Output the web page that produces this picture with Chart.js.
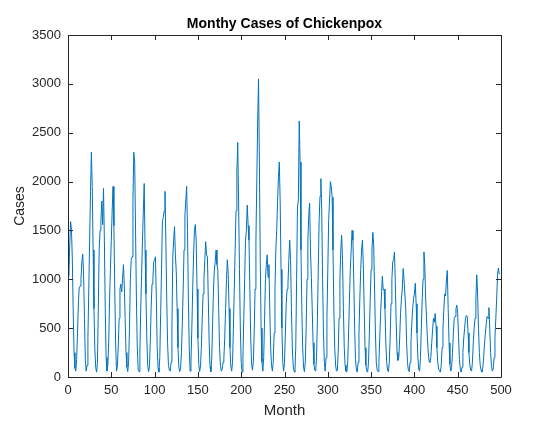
<!DOCTYPE html>
<html>
<head>
<meta charset="utf-8">
<script src="https://cdn.jsdelivr.net/npm/chart.js@4/dist/chart.umd.min.js"></script>
<style>
  html, body { margin: 0; padding: 0; background: #fff; }
</style>
</head>
<body>
<canvas id="poxChart" width="533" height="423"></canvas>
<script>
// monthly cases (month 1 .. 498)
const cases = [
  1030, 1350, 1590, 1510, 1200, 680, 250, 90, 60,
  180, 450, 760, 920, 930, 1000, 1180, 1260, 1050, 600, 180, 60,
  120, 400, 900, 1400, 1900, 2300, 1950, 1300, 700, 280, 100, 50,
  150, 700, 1300, 1500, 1600, 1800, 1560, 1930, 1400, 700, 200, 60,
  120, 350, 800, 1100, 1400, 1700, 1950, 1550, 900, 350, 60,
  110, 300, 600, 900, 950, 870, 1000, 1150, 940, 600, 250, 100, 55,
  150, 500, 1000, 1200, 1230, 1800, 2300, 2200, 1500, 800, 300, 80, 55,
  250, 700, 1050, 1400, 1700, 1980, 1300, 850, 400, 120, 55,
  100, 350, 700, 950, 1000, 1180, 1200, 1230, 800, 300, 90, 50,
  200, 650, 1100, 1600, 1630, 1700, 1900, 1400, 800, 350, 120, 70, 60,
  150, 500, 1230, 1400, 1540, 1250, 1080, 700, 300, 100, 55,
  90, 250, 550, 900, 1300, 1650, 1800, 1950, 1500, 800, 300, 60,
  150, 500, 900, 1250, 1500, 1560, 1400, 900, 400, 130, 55,
  110, 300, 600, 850, 1000, 1200, 1385, 1250, 1230, 800, 350, 110, 55,
  200, 550, 900, 1100, 1180, 1300, 1150, 1100, 700, 300, 120, 60,
  80, 150, 200, 400, 700, 1000, 1200, 1050, 700, 300, 110, 60,
  150, 500, 900, 1300, 1700, 2100, 2400, 1800, 1100, 500, 150, 50,
  200, 600, 1000, 1400, 1500, 1760, 1550, 1400, 900, 400, 130, 70,
  150, 450, 900, 1400, 2000, 2600, 3050, 2200, 1200, 500, 150, 60,
  200, 600, 1000, 1150, 1250, 1020, 1150, 700, 300, 120, 60,
  150, 450, 900, 1300, 1500, 1800, 2050, 2200, 1800, 1100, 500, 150, 60,
  150, 450, 750, 900, 950, 1200, 1400, 1200, 700, 300, 120, 60, 50,
  300, 1000, 1750, 1800, 2620, 2200, 1300, 700, 300, 100, 55,
  150, 500, 1000, 1400, 1650, 1780, 1300, 1020, 700, 350, 130, 70, 60,
  200, 600, 1100, 1600, 1850, 2030, 1700, 1000, 450, 150, 60,
  200, 600, 1100, 1600, 1800, 2000, 1950, 1840, 1300, 700, 300, 120, 60, 70,
  250, 600, 1000, 1300, 1450, 1200, 700, 300, 120, 60, 50,
  150, 450, 800, 1100, 1300, 1500, 1400, 1000, 500, 180, 70, 50,
  150, 450, 800, 1100, 1300, 1400, 1150, 700, 300, 120, 60, 50,
  150, 450, 800, 1100, 1300, 1480, 1350, 900, 450, 150, 70, 55,
  150, 400, 650, 850, 1030, 890, 900, 700, 350, 150, 70, 55,
  150, 400, 750, 1000, 1180, 1200, 1280, 950, 550, 250, 170,
  200, 400, 650, 800, 900, 1110, 1000, 1000, 700, 350, 150, 70, 55,
  150, 350, 550, 700, 800, 850, 960, 750, 450, 200, 80, 60,
  200, 500, 800, 1000, 1280, 1150, 800, 600, 400, 250, 160, 150,
  200, 350, 480, 600, 560, 650, 520, 300, 150, 80, 60, 50,
  120, 300, 500, 700, 850, 830, 1000, 1090, 700, 350, 130, 60,
  100, 250, 450, 600, 620, 700, 735, 650, 400, 180, 80, 50,
  100, 250, 400, 500, 600, 630, 620, 450, 250, 120, 70, 60,
  150, 350, 500, 600, 800, 1045, 850, 500, 250, 120, 70, 50,
  100, 200, 350, 450, 550, 620, 600, 710, 500, 250, 110, 60,
  80, 200, 400, 600, 800, 1050, 1115, 1050
];

const xTicks = [0, 50, 100, 150, 200, 250, 300, 350, 400, 450, 500];
const yTicks = [0, 500, 1000, 1500, 2000, 2500, 3000, 3500];
const chartTitle = 'Monthy Cases of Chickenpox';

const axisColor = '#262626';
const fontFamily = 'Arial, "Liberation Sans", Helvetica, sans-serif';

const points = cases.map((v, i) => ({ x: i + 1, y: v }));

// matlab-like box with inward ticks on all four sides, title centred on the axes
const boxPlugin = {
  id: 'boxTicks',
  afterDraw(chart) {
    const c = chart.ctx;
    const a = chart.chartArea;
    const xs = chart.scales.x, ys = chart.scales.y;
    c.save();
    c.strokeStyle = axisColor;
    c.lineWidth = 1;
    c.beginPath();
    c.rect(Math.round(a.left) + 0.5, Math.round(a.top) + 0.5,
           Math.round(a.right - a.left), Math.round(a.bottom - a.top));
    xTicks.forEach(t => {
      const px = Math.round(xs.getPixelForValue(t)) + 0.5;
      c.moveTo(px, a.bottom); c.lineTo(px, a.bottom - 5);
      c.moveTo(px, a.top); c.lineTo(px, a.top + 5);
    });
    yTicks.forEach(t => {
      const py = Math.round(ys.getPixelForValue(t)) + 0.5;
      c.moveTo(a.left, py); c.lineTo(a.left + 5, py);
      c.moveTo(a.right, py); c.lineTo(a.right - 5, py);
    });
    c.stroke();

    c.fillStyle = '#000';
    c.font = 'bold 14px ' + fontFamily;
    c.textAlign = 'center';
    c.textBaseline = 'alphabetic';
    c.fillText(chartTitle, (a.left + a.right) / 2, a.top - 7);
    c.restore();
  }
};

new Chart(document.getElementById('poxChart'), {
  type: 'line',
  data: {
    datasets: [{
      data: points,
      borderColor: '#0072BD',
      borderWidth: 1,
      pointRadius: 0,
      tension: 0,
      fill: false
    }]
  },
  options: {
    responsive: false,
    animation: false,
    layout: { padding: { left: 0, right: 32, top: 35, bottom: 0 } },
    plugins: {
      legend: { display: false },
      tooltip: { enabled: false },
      title: { display: false }
    },
    scales: {
      x: {
        type: 'linear',
        min: 0,
        max: 500,
        afterBuildTicks: s => { s.ticks = xTicks.map(v => ({ value: v })); },
        afterFit: s => { s.height = 46; },
        grid: { display: false, drawTicks: false },
        border: { display: false },
        ticks: { color: axisColor, font: { family: fontFamily, size: 13 }, padding: 6, maxRotation: 0,
                 callback: v => String(v) },
        title: { display: true, text: 'Month', color: axisColor, font: { family: fontFamily, size: 15 }, padding: { top: 0, bottom: 3 } }
      },
      y: {
        min: 0,
        max: 3500,
        afterBuildTicks: s => { s.ticks = yTicks.map(v => ({ value: v })); },
        afterFit: s => { s.width = 68; },
        grid: { display: false, drawTicks: false },
        border: { display: false },
        ticks: { color: axisColor, font: { family: fontFamily, size: 13 }, padding: 7,
                 callback: v => String(v) },
        title: { display: true, text: 'Cases', color: axisColor, font: { family: fontFamily, size: 14 }, padding: { top: 12, bottom: 0 } }
      }
    }
  },
  plugins: [boxPlugin]
});
</script>
</body>
</html>
